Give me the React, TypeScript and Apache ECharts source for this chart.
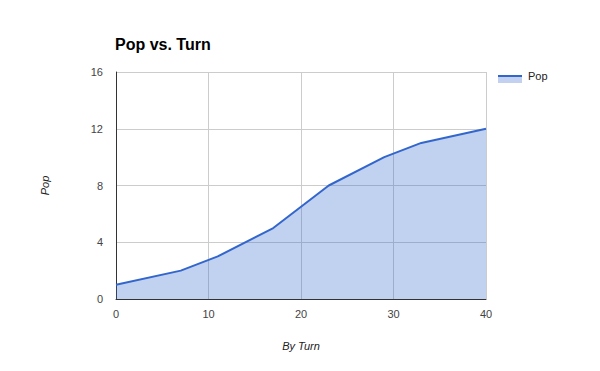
import React, { useEffect, useRef } from "react";
import * as echarts from "echarts";

const turns = [0, 7, 11, 17, 23, 29, 33, 40];
const pop = [1, 2, 3, 5, 8, 10, 11, 12];
const seriesName = "Pop";
const titleText = "Pop vs. Turn";
const xTitle = "By Turn";
const yTitle = "Pop";

const FONT = "'Liberation Sans', Arial, sans-serif";

export default function App() {
  const ref = useRef<HTMLDivElement>(null);
  useEffect(() => {
    if (!ref.current) return;
    const chart = echarts.init(ref.current, undefined, { renderer: "svg" });
    chart.setOption({
      animation: false,
      backgroundColor: "#ffffff",
      textStyle: { fontFamily: FONT },
      title: {
        text: titleText,
        left: 115,
        top: 36,
        padding: 0,
        textStyle: { fontFamily: FONT, fontSize: 16, fontWeight: "bold", color: "#000" },
      },
      grid: { left: 116, right: 114, top: 72, bottom: 72, containLabel: false },
      xAxis: {
        type: "value",
        min: 0,
        max: 40,
        interval: 10,
        name: xTitle,
        nameLocation: "middle",
        nameGap: 41,
        nameTextStyle: { fontFamily: FONT, fontSize: 11, fontStyle: "italic", color: "#222" },
        axisLine: { show: true, lineStyle: { color: "#333", width: 1 } },
        axisTick: { show: false },
        axisLabel: { fontFamily: FONT, fontSize: 11, color: "#444", margin: 9 },
        splitLine: { show: true, lineStyle: { color: "#cccccc", width: 1 } },
      },
      yAxis: {
        type: "value",
        min: 0,
        max: 16,
        interval: 4,
        name: yTitle,
        nameLocation: "middle",
        nameGap: 66,
        nameRotate: 90,
        nameTextStyle: { fontFamily: FONT, fontSize: 11, fontStyle: "italic", color: "#222" },
        axisLine: { show: true, lineStyle: { color: "#333", width: 1 } },
        axisTick: { show: false },
        axisLabel: { fontFamily: FONT, fontSize: 11, color: "#444", margin: 13 },
        splitLine: { show: true, lineStyle: { color: "#cccccc", width: 1 } },
      },
      series: [
        {
          name: seriesName,
          type: "line",
          data: turns.map((t, i) => [t, pop[i]]),
          showSymbol: false,
          symbol: "none",
          lineStyle: { color: "#3366cc", width: 2 },
          itemStyle: { color: "#3366cc" },
          areaStyle: { color: "#3366cc", opacity: 0.3, origin: "start" },
        },
      ],
      graphic: [
        { type: "rect", shape: { x: 498, y: 76, width: 24, height: 7 }, style: { fill: "#c2d1f0" } },
        { type: "line", shape: { x1: 498, y1: 76, x2: 522, y2: 76 }, style: { stroke: "#3366cc", lineWidth: 2 } },
        {
          type: "text",
          x: 528,
          y: 76,
          style: { text: seriesName, font: `11px ${FONT}`, fill: "#222", textVerticalAlign: "middle", verticalAlign: "middle" },
        },
      ],
    });
    return () => chart.dispose();
  }, []);
  return <div ref={ref} style={{ width: 600, height: 371, position: "absolute", left: 0, top: 0 }} />;
}
